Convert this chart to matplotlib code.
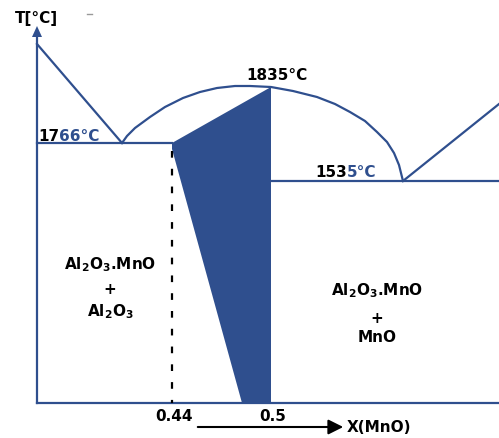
"""
Schematic Al2O3 - MnO phase diagram (drawn in picture units, y pointing down).
"""

import matplotlib
matplotlib.use("Agg")

import matplotlib.pyplot as plt
from matplotlib.patches import Polygon, FancyArrowPatch

plt.rcParams["font.family"] = "DejaVu Sans"
plt.rcParams["mathtext.fontset"] = "custom"
plt.rcParams["mathtext.rm"] = "DejaVu Sans:bold"
plt.rcParams["mathtext.it"] = "DejaVu Sans:bold"
plt.rcParams["mathtext.bf"] = "DejaVu Sans:bold"
plt.rcParams["mathtext.default"] = "rm"

BLUE = "#2f4f8e"

# ── Schematic geometry (picture units) ─────────────────────────────────────────
AXIS_X, AXIS_BOTTOM, AXIS_TOP, RIGHT_EDGE = 37, 404, 27, 499

liq_left_x = [37, 122]
liq_left_y = [45, 144]

dome_x = [122, 127, 135, 150, 165, 183, 200, 217, 235, 250, 271, 293, 317, 335, 350, 365, 377, 387, 394, 399, 403]
dome_y = [144, 137, 129, 118, 108, 99, 93, 89, 87, 87, 88, 92, 98, 105, 113, 122, 133, 143, 154, 166, 182]

liq_right_x = [403, 499]
liq_right_y = [182, 105]

eut1_x, eut1_y = [37, 172], [144, 144]
eut2_x, eut2_y = [271, 499], [182, 182]

phase_x = [172, 172, 242, 271, 271]
phase_y = [144, 150, 404, 404, 88]

comp_labels = ["0.44", "0.5"]
comp_x = [172, 271]

fig = plt.figure(figsize=(4.99, 4.39), dpi=100)
ax = fig.add_axes([0, 0, 1, 1])
ax.set_xlim(0, 499)
ax.set_ylim(439, 0)
ax.axis("off")

lw = 1.6
# axes frame
ax.plot([AXIS_X, AXIS_X], [AXIS_BOTTOM, AXIS_TOP + 8], color=BLUE, lw=lw)
ax.plot([AXIS_X, RIGHT_EDGE], [AXIS_BOTTOM, AXIS_BOTTOM], color=BLUE, lw=lw)
ax.add_patch(Polygon([[AXIS_X - 5, AXIS_TOP + 11], [AXIS_X + 5, AXIS_TOP + 11], [AXIS_X, AXIS_TOP]],
                     closed=True, color=BLUE, lw=0))

# phase boundaries
ax.plot(liq_left_x, liq_left_y, color=BLUE, lw=lw)
ax.plot(dome_x, dome_y, color=BLUE, lw=lw)
ax.plot(liq_right_x, liq_right_y, color=BLUE, lw=lw)
ax.plot(eut1_x, eut1_y, color=BLUE, lw=lw)
ax.plot(eut2_x, eut2_y, color=BLUE, lw=lw)
ax.add_patch(Polygon(list(zip(phase_x, phase_y)), closed=True, color=BLUE, lw=0))

# dashed line at 0.44
ax.plot([comp_x[0], comp_x[0]], [152, AXIS_BOTTOM], color="black", lw=1.6, ls=(0, (3, 5)))

# temperature labels
tkw = dict(fontsize=11, fontweight="bold", va="center")
ax.text(59.5, 137, "17", ha="right", color="black", **tkw)
ax.text(59.5, 137, "66°C", ha="left", color=BLUE, **tkw)
ax.text(347, 173, "153", ha="right", color="black", **tkw)
ax.text(347, 173, "5°C", ha="left", color=BLUE, **tkw)
ax.text(277, 75, "1835°C", ha="center", color="black", **tkw)
ax.text(36, 18, "T[°C]", ha="center", color="black", **tkw)

# phase field labels
lkw = dict(fontsize=11, fontweight="bold", ha="center", va="center", color="black")
ax.text(110, 265, r"Al$_2$O$_3$.MnO", **lkw)
ax.text(110, 290, "+", **lkw)
ax.text(110, 312, r"Al$_2$O$_3$", **lkw)
ax.text(377, 291, r"Al$_2$O$_3$.MnO", **lkw)
ax.text(377, 319, "+", **lkw)
ax.text(377, 338, "MnO", **lkw)

# composition axis
for lab, x in zip(comp_labels, comp_x):
    ax.text(x + 2, 417, lab, **lkw)
ax.add_patch(FancyArrowPatch((195, 428), (346, 428), arrowstyle="-|>,head_length=9,head_width=4.5",
                             color="black", lw=1.5, mutation_scale=1))
ax.text(347, 428, "X(MnO)", fontsize=11, fontweight="bold", ha="left", va="center")

# small scan mark
ax.plot([87, 92], [15, 15], color="#999999", lw=1)

fig.savefig("out.png", dpi=100)
